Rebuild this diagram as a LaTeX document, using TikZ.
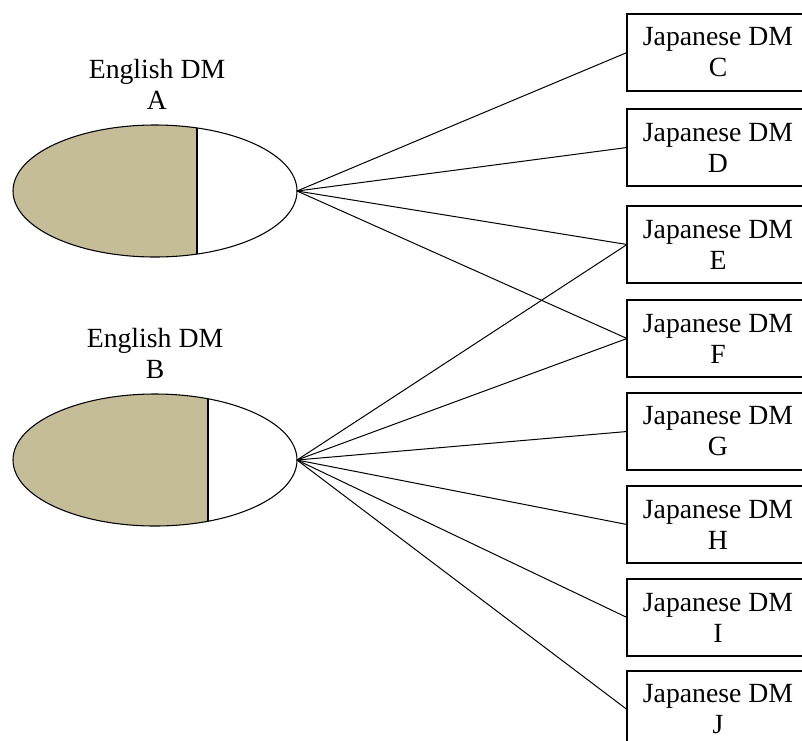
\documentclass[tikz,border=0pt]{standalone}
\usepackage{fontspec}
\setmainfont{Liberation Serif}
\usetikzlibrary{shapes.geometric}
\definecolor{tanfill}{RGB}{196,189,151}
\begin{document}
\begin{tikzpicture}[x=0.75pt,y=-0.75pt,
  every node/.style={font=\fontsize{20.8pt}{23.25pt}\selectfont, outer sep=0pt, inner sep=0pt},
  dm/.style={ellipse, draw, line width=0.8pt, minimum width=213pt, minimum height=99pt},
  jbox/.style={rectangle, minimum width=136.5pt, minimum height=57.75pt, align=center},
  boxline/.style={line width=0.8pt},
  lbl/.style={align=center},
  conn/.style={line width=0.75pt}]
\clip (0,0) rectangle (802,740);
% English DMs
\node[dm, path picture={
  \fill[tanfill] (path picture bounding box.south west) rectangle ([xshift=31.5pt]path picture bounding box.north);
  \draw[line width=0.8pt] ([xshift=31.5pt]path picture bounding box.north) -- ([xshift=31.5pt]path picture bounding box.south);
}] (A) at (155,191) {};
\node[dm, path picture={
  \fill[tanfill] (path picture bounding box.south west) rectangle ([xshift=39.75pt]path picture bounding box.north);
  \draw[line width=0.8pt] ([xshift=39.75pt]path picture bounding box.north) -- ([xshift=39.75pt]path picture bounding box.south);
}] (B) at (155,460) {};
\node[lbl] (labA) at (157,84) {English DM\\A};
\node[lbl] (labB) at (155,353) {English DM\\B};
% Japanese DMs
\node[jbox] (C) at (718,52.5) {Japanese DM\\C};
\node[jbox] (D) at (718,147.5) {Japanese DM\\D};
\node[jbox] (E) at (718,244.5) {Japanese DM\\E};
\node[jbox] (F) at (718,338.5) {Japanese DM\\F};
\node[jbox] (G) at (718,431.5) {Japanese DM\\G};
\node[jbox] (H) at (718,524.5) {Japanese DM\\H};
\node[jbox] (I) at (718,617.5) {Japanese DM\\I};
\node[jbox] (J) at (718,709.5) {Japanese DM\\J};
% box outlines, running past the right edge of the picture
\foreach \t in {C,D,E,F,G,H,I,J}
  \draw[boxline] (\t.north west) rectangle ([xshift=30pt]\t.south east);
% connectors
\foreach \t in {C,D,E,F} \draw[conn] (A.east) -- (\t.west);
\foreach \t in {E,F,G,H,I,J} \draw[conn] (B.east) -- (\t.west);
\end{tikzpicture}
\end{document}
